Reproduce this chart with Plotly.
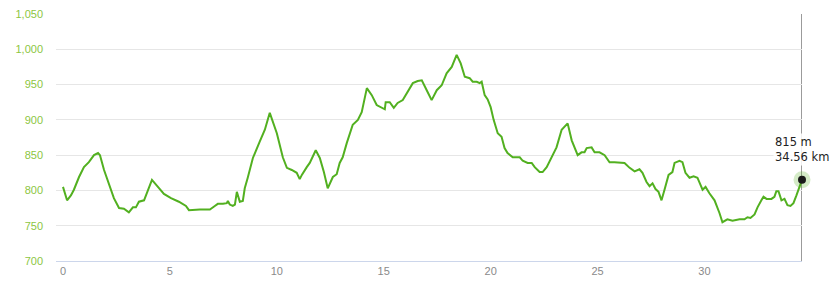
import plotly.graph_objects as go

dist_km = [0.00, 0.19, 0.37, 0.51, 0.75, 0.98, 1.21, 1.45, 1.64, 1.73, 1.92, 2.15, 2.38, 2.62, 2.85,
           3.08, 3.27, 3.41, 3.55, 3.79, 4.16, 4.44, 4.72, 5.05, 5.42, 5.75, 5.89, 6.40, 6.87, 7.10,
           7.24, 7.48, 7.66, 7.71, 7.80, 7.94, 8.04, 8.13, 8.27, 8.41, 8.50, 8.64, 8.88, 9.20, 9.44,
           9.67, 10.00, 10.28, 10.47, 10.70, 10.93, 11.07, 11.17, 11.40, 11.54, 11.82, 12.01, 12.20,
           12.38, 12.62, 12.80, 12.94, 13.08, 13.27, 13.41, 13.55, 13.79, 13.97, 14.21, 14.44, 14.67,
           14.91, 15.05, 15.09, 15.28, 15.47, 15.65, 15.89, 16.12, 16.36, 16.59, 16.78, 17.01, 17.24,
           17.48, 17.71, 17.94, 18.18, 18.41, 18.60, 18.79, 19.02, 19.16, 19.35, 19.49, 19.58, 19.72,
           19.86, 20.00, 20.14, 20.33, 20.51, 20.65, 20.79, 21.03, 21.21, 21.36, 21.50, 21.73, 21.92,
           22.06, 22.29, 22.43, 22.62, 22.85, 23.08, 23.32, 23.60, 23.79, 23.93, 24.07, 24.25, 24.39,
           24.49, 24.72, 24.86, 25.09, 25.33, 25.56, 25.79, 26.03, 26.26, 26.50, 26.73, 26.96, 27.10,
           27.29, 27.43, 27.57, 27.71, 27.85, 27.99, 28.13, 28.32, 28.50, 28.60, 28.83, 28.97, 29.11,
           29.30, 29.49, 29.67, 29.91, 30.05, 30.23, 30.47, 30.70, 30.84, 31.07, 31.31, 31.64, 31.87,
           32.01, 32.15, 32.34, 32.48, 32.66, 32.76, 32.90, 33.13, 33.27, 33.36, 33.46, 33.60, 33.74,
           33.88, 34.02, 34.16, 34.30, 34.56]

elev_m = [805, 786, 793, 801, 819, 833, 840, 850, 853, 850, 829, 810, 789, 775, 774,
          769, 776, 776, 784, 786, 815, 805, 795, 789, 784, 778, 772, 773, 773, 778,
          781, 781, 782, 785, 780, 778, 780, 798, 784, 785, 803, 818, 846, 869, 886,
          910, 881, 847, 832, 829, 825, 816, 822, 833, 839, 857, 846, 826,
          803, 819, 823, 839, 847, 867, 881, 893, 900, 911, 945, 935, 921,
          917, 915, 925, 925, 917, 924, 928, 939, 952, 955, 956, 942, 928,
          942, 949, 966, 975, 992, 980, 961, 959, 954, 954, 952, 954, 935,
          929, 918, 900, 881, 876, 860, 853, 847, 847, 847, 842, 839, 839,
          833, 826, 826, 833, 846, 861, 886, 895, 871, 860, 850, 854, 854,
          860, 861, 854, 854, 850, 840, 840, 840, 839, 832, 827, 830, 825,
          812, 806, 810, 802, 798, 786, 801, 822, 826, 839, 842, 840, 825,
          818, 820, 818, 801, 805, 796, 786, 768, 755, 759, 757, 759, 759,
          762, 761, 766, 776, 786, 791, 788, 788, 791, 799, 799, 786, 788,
          779, 778, 782, 793, 815]

x_ticks = [0, 5, 10, 15, 20, 25, 30]
y_ticks = [700, 750, 800, 850, 900, 950, 1000, 1050]

line_color = "#52b020"
font_family = "Liberation Sans, Arial, sans-serif"
tip_font = "DejaVu Sans, Verdana, sans-serif"

fig = go.Figure()
fig.add_trace(go.Scatter(
    x=dist_km, y=elev_m, mode="lines",
    line=dict(color=line_color, width=2),
    hoverinfo="skip", showlegend=False,
))
# halo + marker at the last point (hover state)
fig.add_trace(go.Scatter(
    x=[dist_km[-1]], y=[elev_m[-1]], mode="markers",
    marker=dict(size=17, color="rgba(82,176,32,0.25)", line=dict(width=0)),
    hoverinfo="skip", showlegend=False, cliponaxis=False,
))
fig.add_trace(go.Scatter(
    x=[dist_km[-1]], y=[elev_m[-1]], mode="markers",
    marker=dict(size=8, color="#1a1a1a", line=dict(width=0)),
    hoverinfo="skip", showlegend=False, cliponaxis=False,
))

fig.add_shape(type="line", xref="x", yref="paper",
              x0=dist_km[-1], x1=dist_km[-1], y0=0, y1=1,
              line=dict(color="#7a7a7a", width=1.5), layer="below")

fig.add_annotation(
    x=dist_km[-1], y=elev_m[-1], xref="x", yref="y",
    text=f"{elev_m[-1]} m<br>{dist_km[-1]:.2f} km",
    showarrow=False, xanchor="center", yanchor="bottom", yshift=14, xshift=0,
    align="left", font=dict(family=tip_font, size=11.5, color="#222222"),
    bgcolor="rgba(255,255,255,0.85)",
)

fig.update_layout(
    width=840, height=286,
    margin=dict(l=56, r=38, t=14, b=25, autoexpand=False),
    paper_bgcolor="white", plot_bgcolor="white",
    font=dict(family=font_family),
    hovermode=False,
)
fig.update_xaxes(
    range=[-0.327, dist_km[-1]],
    tickvals=x_ticks, ticktext=[str(t) for t in x_ticks],
    showgrid=False, zeroline=False, automargin=False,
    showline=True, linecolor="#ccd6eb", linewidth=1,
    ticks="", tickfont=dict(size=11, color="#8a8a8a"),
)
fig.update_yaxes(
    range=[700, 1050],
    tickvals=y_ticks, ticktext=[f"{t:,}" for t in y_ticks],
    showgrid=True, gridcolor="#e6e6e6", gridwidth=1,
    zeroline=False, showline=False, ticks="", automargin=False,
    ticklabelstandoff=12,
    tickfont=dict(size=11, color="#8cc63f"),
)

fig.write_html("out.html")
